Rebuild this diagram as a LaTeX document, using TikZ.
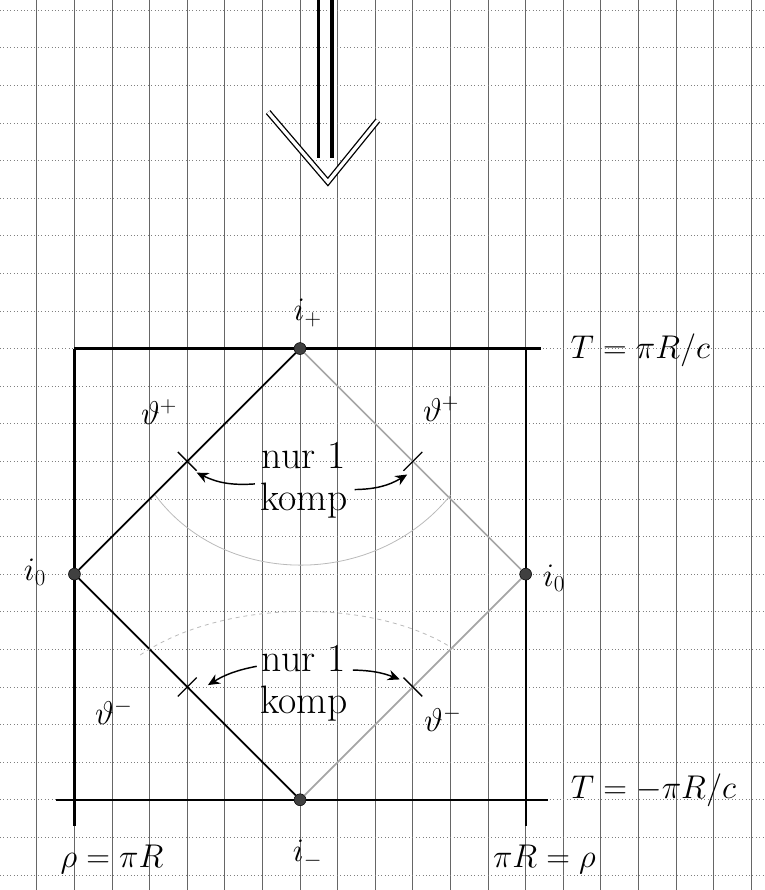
\documentclass[tikz,border=0pt]{standalone}
\usepackage{amsmath, amssymb}
\usepackage{tikz}
\usetikzlibrary{arrows.meta, positioning, calc}

\tikzset{
  dot/.style={circle, fill=black!75, draw=black, inner sep=0pt, minimum size=9pt},
  hand/.style={font=\fontsize{24}{28}\selectfont, inner sep=1pt},
  bighand/.style={font=\fontsize{30}{32}\selectfont, inner sep=1pt},
  edge/.style={line width=1.3pt},
  lightedge/.style={line width=1.3pt, gray!70},
  frame/.style={line width=1.7pt},
  tick/.style={line width=1pt},
  hint/.style={-{Stealth[length=9pt, width=8pt]}, line width=1.1pt},
  faint/.style={gray!55, line width=0.6pt}
}

\begin{document}
\begin{tikzpicture}
  \useasboundingbox (-7.98,-8.40) rectangle (12.34,15.27);
  % squared paper
  \foreach \x in {-8,...,12}
    \draw[black!60, line width=0.6pt] (\x,-8.4) -- (\x,15.27);
  \foreach \y in {-8,...,15}
    \draw[black!50, dotted, line width=0.6pt] (-7.98,\y) -- (12.34,\y);

  % big arrow pointing down
  \coordinate (sl) at (0.48,15.3);
  \coordinate (sr) at (0.85,15.3);
  \coordinate (tip) at (0.74,10.43);
  \draw[line width=2.4pt] (sl) -- (0.48,11.06);
  \draw[line width=2.4pt] (sr) -- (0.85,11.06);
  \draw[double, double distance=2.5pt, line width=1pt] (-0.85,12.29) -- (tip) -- (2.07,12.07);

  % the four corners
  \node[dot] (ip) at (0,6) {};
  \node[dot] (il) at (-6,0) {};
  \node[dot] (ir) at (6,0) {};
  \node[dot] (im) at (0,-6) {};

  % frame
  \draw[frame] (-6,6) -- (ip) -- (6.4,6);
  \draw[frame] (-6,6) -- (il) -- (-6,-6.7);
  \draw[frame] (6,6) -- (ir) -- (6,-6.7);
  \draw[frame] (-6.5,-6) -- (im) -- (6.6,-6);

  % light cone lines
  \draw[edge] (il) -- (ip);
  \draw[lightedge] (ip) -- (ir);
  \draw[edge] (il) -- (im);
  \draw[lightedge] (im) -- (ir);

  % marks on the edges
  \coordinate (tl) at ($(il)!0.5!(ip)$);
  \coordinate (tr) at ($(ip)!0.5!(ir)$);
  \coordinate (bl) at ($(il)!0.5!(im)$);
  \coordinate (br) at ($(im)!0.5!(ir)$);
  \draw[tick] (tl) ++(-0.25,0.25) -- ++(0.5,-0.5);
  \draw[tick] (tr) ++(-0.25,-0.25) -- ++(0.5,0.5);
  \draw[tick] (bl) ++(-0.25,-0.25) -- ++(0.5,0.5);
  \draw[tick] (br) ++(-0.25,0.25) -- ++(0.5,-0.5);

  % labels
  \node[hand] (lip) at (0.2,6.95) {$i_{+}$};
  \node[hand] (lim) at (0.2,-7.45) {$i_{-}$};
  \node[hand] (lil) at (-7.05,0.05) {$i_0$};
  \node[hand] (lir) at (6.75,-0.1) {$i_0$};
  \node[hand] (stl) at (-3.75,4.3) {$\vartheta^{+}$};
  \node[hand] (str) at (3.75,4.4) {$\vartheta^{+}$};
  \node[hand] (sbl) at (-4.95,-3.65) {$\vartheta^{-}$};
  \node[hand] (sbr) at (3.8,-3.85) {$\vartheta^{-}$};
  \node[hand] (tup) at (9.05,5.95) {$T=\pi R/c$};
  \node[hand] (tdn) at (9.4,-5.75) {$T=-\pi R/c$};
  \node[hand] (rl) at (-5.0,-7.6) {$\rho=\pi R$};
  \node[hand] (rr) at (6.5,-7.6) {$\pi R=\rho$};

  % only one component
  \node[bighand, align=center] (top1) at (0.1,2.5) {nur 1\\komp};
  \node[bighand, align=center] (bot1) at (0.1,-2.9) {nur 1\\komp};
  \draw[hint] ($(top1.west)+(-0.1,-0.1)$) to[bend left=15] ($(tl)+(0.25,-0.3)$);
  \draw[hint] ($(top1.east)+(0.15,-0.25)$) to[bend right=15] ($(tr)+(-0.15,-0.35)$);
  \draw[hint] ($(bot1.west)+(-0.05,0.45)$) to[bend right=10] ($(bl)+(0.55,0.05)$);
  \draw[hint] ($(bot1.east)+(0.1,0.35)$) to[bend left=10] ($(br)+(-0.35,0.2)$);

  % faint arcs
  \draw[faint] (-3.85,2.1) .. controls (-2,-0.38) and (2,-0.38) .. (4,2.1);
  \draw[faint, dashed] (-4.25,-2.15) .. controls (-2,-0.63) and (2,-0.63) .. (4.1,-2.0);
\end{tikzpicture}
\end{document}
